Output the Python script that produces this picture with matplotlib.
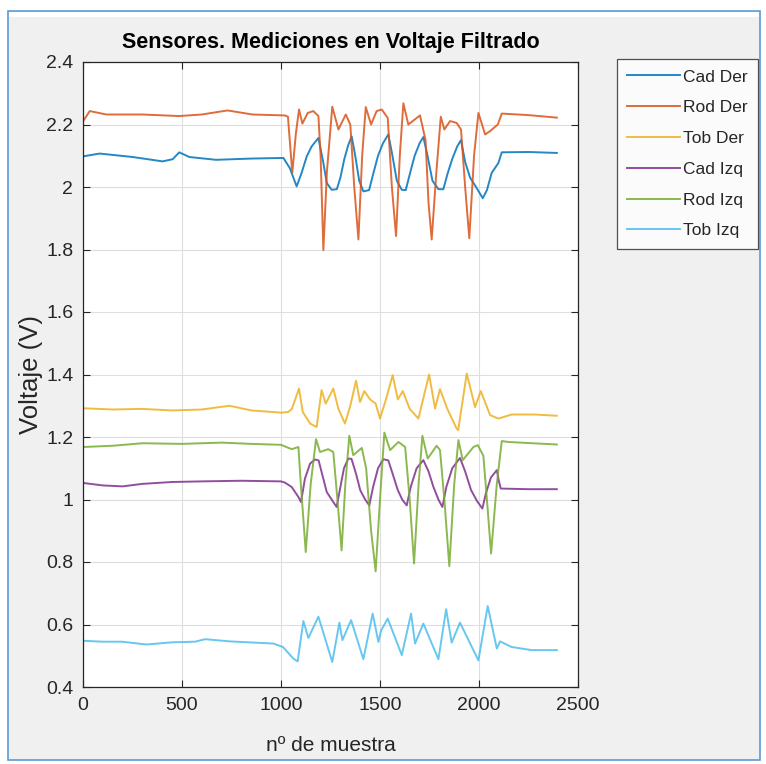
#!/usr/bin/env python3
"""
plot.py
Sensores: voltaje filtrado de seis sensores (estilo figura de MATLAB).
"""

import matplotlib
matplotlib.use("Agg")
import matplotlib.pyplot as plt
from matplotlib.patches import Rectangle
from matplotlib.ticker import FuncFormatter

plt.rcParams["font.family"] = ["Liberation Sans", "DejaVu Sans"]

# --- datos (n de muestra, voltaje) ---
cad_der_x = [0, 84, 251, 402, 453, 486, 537, 672, 850, 1012, 1045, 1079, 1104, 1130, 1155, 1189,
             1214, 1231, 1256, 1282, 1300, 1320, 1340, 1357, 1375, 1395, 1416, 1445, 1465, 1490,
             1515, 1542, 1560, 1585, 1610, 1630, 1650, 1675, 1700, 1719, 1740, 1765, 1795, 1820,
             1840, 1865, 1890, 1909, 1930, 1955, 1985, 2019, 2040, 2064, 2098, 2115, 2250, 2393]
cad_der_y = [2.098, 2.107, 2.096, 2.082, 2.089, 2.111, 2.096, 2.087, 2.091, 2.093, 2.06, 2.002,
             2.045, 2.098, 2.130, 2.157, 2.077, 2.013, 1.991, 1.993, 2.03, 2.09, 2.135, 2.162,
             2.10, 2.02, 1.986, 1.99, 2.04, 2.10, 2.14, 2.168, 2.11, 2.02, 1.991, 1.99, 2.04,
             2.10, 2.14, 2.160, 2.10, 2.02, 1.993, 1.993, 2.04, 2.09, 2.13, 2.150, 2.08, 2.03,
             2.0, 1.964, 1.99, 2.045, 2.077, 2.111, 2.112, 2.109]

rod_der_x = [0, 34, 118, 300, 486, 600, 730, 856, 1020, 1035, 1057, 1075, 1091, 1108, 1135, 1163,
             1189, 1200, 1214, 1232, 1259, 1290, 1327, 1350, 1370, 1391, 1410, 1428, 1455, 1483,
             1509, 1539, 1560, 1581, 1600, 1618, 1643, 1702, 1730, 1745, 1761, 1785, 1807, 1825,
             1854, 1887, 1909, 1930, 1951, 1975, 1997, 2031, 2056, 2095, 2115, 2250, 2393]
rod_der_y = [2.21, 2.243, 2.232, 2.232, 2.227, 2.232, 2.245, 2.232, 2.229, 2.225, 2.045, 2.17,
             2.248, 2.203, 2.237, 2.243, 2.227, 2.1, 1.798, 2.05, 2.257, 2.184, 2.232, 2.2, 2.0,
             1.832, 2.1, 2.256, 2.2, 2.243, 2.248, 2.221, 2.0, 1.843, 2.1, 2.268, 2.2, 2.229,
             2.15, 1.95, 1.832, 2.05, 2.225, 2.184, 2.211, 2.205, 2.184, 2.0, 1.836, 2.1, 2.237,
             2.168, 2.179, 2.2, 2.235, 2.23, 2.222]

tob_der_x = [0, 150, 300, 450, 600, 740, 850, 1000, 1037, 1055, 1091, 1110, 1147, 1180, 1205,
             1226, 1264, 1290, 1323, 1350, 1379, 1399, 1421, 1450, 1478, 1500, 1530, 1564, 1590,
             1615, 1650, 1694, 1748, 1778, 1803, 1840, 1887, 1895, 1938, 1980, 2009, 2056, 2098,
             2165, 2280, 2393]
tob_der_y = [1.292, 1.288, 1.29, 1.285, 1.288, 1.30, 1.285, 1.278, 1.28, 1.29, 1.355, 1.28,
             1.243, 1.232, 1.350, 1.307, 1.355, 1.29, 1.243, 1.30, 1.380, 1.312, 1.347, 1.32,
             1.307, 1.259, 1.32, 1.398, 1.32, 1.347, 1.29, 1.259, 1.40, 1.291, 1.353, 1.29,
             1.227, 1.222, 1.403, 1.296, 1.347, 1.270, 1.259, 1.272, 1.272, 1.268]

cad_izq_x = [0, 100, 200, 300, 450, 600, 800, 1000, 1020, 1054, 1088, 1101, 1121, 1147, 1172,
             1190, 1205, 1231, 1264, 1281, 1300, 1318, 1340, 1356, 1380, 1400, 1425, 1446, 1465,
             1490, 1517, 1542, 1565, 1590, 1612, 1635, 1655, 1685, 1719, 1745, 1770, 1795, 1815,
             1835, 1865, 1904, 1930, 1960, 1990, 2017, 2035, 2060, 2090, 2100, 2110, 2250, 2393]
cad_izq_y = [1.053, 1.045, 1.042, 1.05, 1.056, 1.058, 1.06, 1.058, 1.054, 1.040, 1.008, 0.992,
             1.067, 1.115, 1.128, 1.125, 1.088, 1.024, 0.992, 0.976, 1.04, 1.10, 1.131, 1.13,
             1.08, 1.03, 1.0, 0.981, 1.04, 1.10, 1.129, 1.125, 1.08, 1.03, 1.0, 0.981, 1.04,
             1.10, 1.126, 1.09, 1.04, 1.0, 0.976, 1.04, 1.10, 1.133, 1.09, 1.03, 0.995, 0.971,
             1.02, 1.07, 1.094, 1.06, 1.035, 1.033, 1.033]

rod_izq_x = [0, 150, 300, 500, 700, 850, 1000, 1054, 1088, 1100, 1125, 1150, 1177, 1197, 1239,
             1264, 1285, 1306, 1325, 1345, 1365, 1408, 1430, 1455, 1478, 1500, 1522, 1551, 1593,
             1627, 1650, 1672, 1695, 1714, 1741, 1786, 1803, 1825, 1850, 1875, 1896, 1918, 1972,
             1994, 2022, 2040, 2061, 2090, 2115, 2150, 2393]
rod_izq_y = [1.168, 1.172, 1.18, 1.178, 1.182, 1.178, 1.175, 1.161, 1.168, 1.05, 0.832, 1.05,
             1.193, 1.152, 1.161, 1.152, 1.0, 0.837, 1.05, 1.204, 1.142, 1.165, 1.1, 0.9, 0.770,
             1.0, 1.214, 1.158, 1.184, 1.168, 1.0, 0.795, 1.05, 1.204, 1.131, 1.172, 1.158, 1.0,
             0.787, 1.05, 1.190, 1.126, 1.168, 1.174, 1.14, 1.0, 0.827, 1.05, 1.187, 1.184, 1.176]

tob_izq_x = [0, 100, 197, 320, 450, 566, 617, 740, 962, 1010, 1062, 1084, 1113, 1138, 1189,
             1259, 1295, 1310, 1354, 1416, 1463, 1492, 1505, 1539, 1610, 1657, 1677, 1719, 1795,
             1834, 1862, 1904, 1997, 2044, 2090, 2106, 2165, 2266, 2393]
tob_izq_y = [0.548, 0.545, 0.545, 0.536, 0.543, 0.545, 0.553, 0.546, 0.539, 0.528, 0.491,
             0.482, 0.611, 0.557, 0.625, 0.480, 0.606, 0.550, 0.614, 0.489, 0.635, 0.544, 0.58,
             0.619, 0.502, 0.635, 0.539, 0.603, 0.489, 0.649, 0.542, 0.606, 0.485, 0.659, 0.523,
             0.546, 0.528, 0.518, 0.518]

labels = ["Cad Der", "Rod Der", "Tob Der", "Cad Izq", "Rod Izq", "Tob Izq"]
colors = ["#0072BD", "#D95319", "#EDB120", "#7E2F8E", "#77AC30", "#4DBEEE"]

x_ticks = [0, 500, 1000, 1500, 2000, 2500]
y_ticks = [0.4, 0.6, 0.8, 1.0, 1.2, 1.4, 1.6, 1.8, 2.0, 2.2, 2.4]

TXT = "#262626"


def main():
    fig = plt.figure(figsize=(7.66, 7.64), dpi=100, facecolor="white")

    # marco de la ventana (gris con borde azul)
    fig.patches.append(Rectangle((8 / 766, 4 / 764), 752 / 766, 749 / 764,
                                 transform=fig.transFigure, facecolor="#f0f0f0",
                                 edgecolor="#5b9bd5", linewidth=1.2, zorder=-10))
    fig.patches.append(Rectangle((9 / 766, 747 / 764), 750 / 766, 5 / 764,
                                 transform=fig.transFigure, facecolor="white",
                                 edgecolor="none", zorder=-9))

    ax = fig.add_axes([83 / 766, 1 - 687 / 764, 495 / 766, 625 / 764])
    ax.set_facecolor("white")

    series = [(cad_der_x, cad_der_y), (rod_der_x, rod_der_y), (tob_der_x, tob_der_y),
              (cad_izq_x, cad_izq_y), (rod_izq_x, rod_izq_y), (tob_izq_x, tob_izq_y)]
    for (xs, ys), lab, col in zip(series, labels, colors):
        ax.plot(xs, ys, color=col, linewidth=1.4, alpha=0.85, label=lab)

    ax.set_xlim(0, 2500)
    ax.set_ylim(0.4, 2.4)
    ax.set_xticks(x_ticks)
    ax.set_yticks(y_ticks)
    ax.yaxis.set_major_formatter(FuncFormatter(lambda v, p: "%g" % round(v, 1)))
    ax.tick_params(direction="in", top=True, right=True, length=5, width=0.8,
                   labelsize=14, colors=TXT, pad=7)
    ax.grid(True, color="#dedede", linewidth=0.8)
    for s in ax.spines.values():
        s.set_color(TXT)
        s.set_linewidth(0.9)

    ax.set_title("Sensores. Mediciones en Voltaje Filtrado", fontsize=15.5,
                 fontweight="bold", color="black", pad=10)
    ax.set_xlabel("nº de muestra", fontsize=15, color=TXT)
    ax.set_ylabel("Voltaje (V)", fontsize=18.5, color=TXT)
    ax.xaxis.set_label_coords(0.5, -0.078)
    ax.yaxis.set_label_coords(-0.08, 0.5)

    leg = fig.legend(loc="upper left", bbox_to_anchor=(617 / 766, 1 - 59 / 764),
                     fontsize=12.5, frameon=True, fancybox=False, handlelength=3.0,
                     handletextpad=0.2, labelspacing=0.9, borderpad=0.6,
                     borderaxespad=0)
    leg.get_frame().set_edgecolor(TXT)
    leg.get_frame().set_linewidth(0.9)
    for t in leg.get_texts():
        t.set_color(TXT)

    fig.savefig("out.png", dpi=100, facecolor=fig.get_facecolor())
    plt.close(fig)


if __name__ == "__main__":
    main()
